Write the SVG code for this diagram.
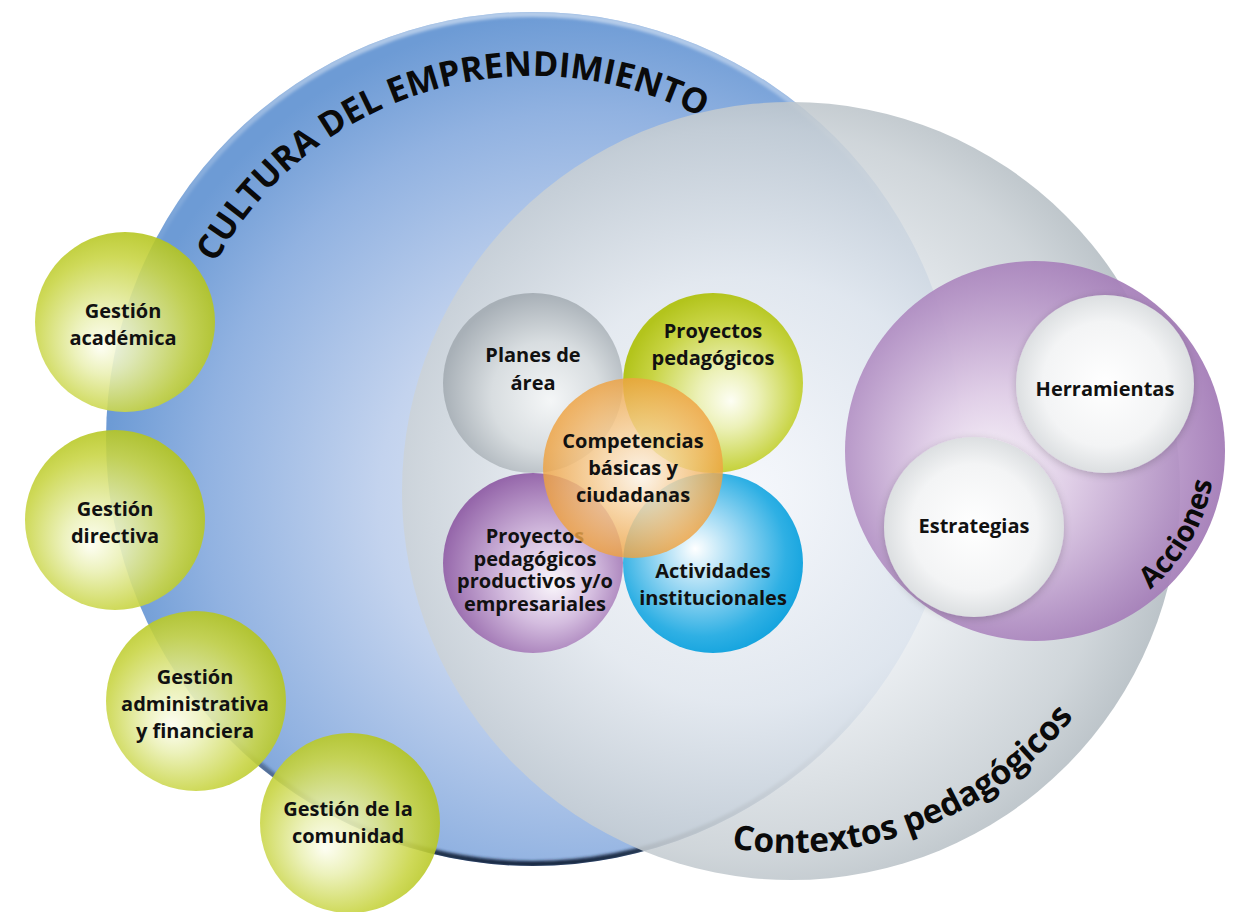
<svg xmlns="http://www.w3.org/2000/svg" width="1237" height="912" viewBox="0 0 1237 912">
<style>
.lbl{font-family:"Open Sans","Liberation Sans",sans-serif;font-weight:700;font-size:20px;text-anchor:middle;fill:#111}
.arc{font-family:"Open Sans","Liberation Sans",sans-serif;font-weight:700;fill:#0a0a0a}
</style>
<defs>
<radialGradient id="gBlue" cx="0.56" cy="0.56" r="0.56" fx="0.58" fy="0.58">
<stop offset="0" stop-color="#eaf0fa"/><stop offset="0.45" stop-color="#c3d3ee"/><stop offset="0.8" stop-color="#91b2e1"/><stop offset="1" stop-color="#6d9bd5"/>
</radialGradient>
<linearGradient id="gBlueRim" x1="0" y1="0" x2="0" y2="1">
<stop offset="0" stop-color="#fff" stop-opacity="0.5"/><stop offset="0.3" stop-color="#fff" stop-opacity="0"/><stop offset="0.8" stop-color="#142640" stop-opacity="0"/><stop offset="1" stop-color="#142640" stop-opacity="1"/>
</linearGradient>
<radialGradient id="gGray" cx="0.45" cy="0.5" r="0.55" fx="0.45" fy="0.5">
<stop offset="0" stop-color="#fafbfd"/><stop offset="0.5" stop-color="#e8ecf0"/><stop offset="0.85" stop-color="#c9d0d5"/><stop offset="1" stop-color="#b2bbc1"/>
</radialGradient>
<radialGradient id="gPurple" cx="0.45" cy="0.5" r="0.55" fx="0.38" fy="0.56">
<stop offset="0" stop-color="#faf5fb"/><stop offset="0.35" stop-color="#e0cde7"/><stop offset="0.8" stop-color="#b492c5"/><stop offset="1" stop-color="#a27ab6"/>
</radialGradient>
<radialGradient id="gGreen" cx="0.45" cy="0.55" r="0.58" fx="0.36" fy="0.64">
<stop offset="0" stop-color="#fdfef2"/><stop offset="0.3" stop-color="#eaf0b4"/><stop offset="0.75" stop-color="#c9d546"/><stop offset="1" stop-color="#b3c41c"/>
</radialGradient>
<radialGradient id="gGreen2" cx="0.55" cy="0.55" r="0.55" fx="0.6" fy="0.6">
<stop offset="0" stop-color="#fdfef4"/><stop offset="0.3" stop-color="#ecf1b8"/><stop offset="0.75" stop-color="#c8d444"/><stop offset="1" stop-color="#b3c41c"/>
</radialGradient>
<radialGradient id="gOrange" cx="0.5" cy="0.5" r="0.52" fx="0.55" fy="0.55">
<stop offset="0" stop-color="#fff5e8"/><stop offset="0.45" stop-color="#f9cf96"/><stop offset="1" stop-color="#ee9f3a"/>
</radialGradient>
<radialGradient id="gCyan" cx="0.45" cy="0.45" r="0.58" fx="0.4" fy="0.42">
<stop offset="0" stop-color="#ffffff"/><stop offset="0.4" stop-color="#99d7f3"/><stop offset="0.8" stop-color="#2fb0e4"/><stop offset="1" stop-color="#13a3de"/>
</radialGradient>
<radialGradient id="gGraySm" cx="0.55" cy="0.55" r="0.55" fx="0.6" fy="0.6">
<stop offset="0" stop-color="#f4f6f7"/><stop offset="0.55" stop-color="#d8dde0"/><stop offset="1" stop-color="#a8b0b7"/>
</radialGradient>
<radialGradient id="gPurpleSm" cx="0.55" cy="0.55" r="0.56" fx="0.62" fy="0.62">
<stop offset="0" stop-color="#faf6fb"/><stop offset="0.45" stop-color="#d4bddf"/><stop offset="1" stop-color="#9566aa"/>
</radialGradient>
<radialGradient id="gWhite" cx="0.5" cy="0.5" r="0.5">
<stop offset="0" stop-color="#ffffff"/><stop offset="0.7" stop-color="#f3f4f5"/><stop offset="1" stop-color="#dcdfe1"/>
</radialGradient>
<filter id="blur2" x="-10%" y="-10%" width="120%" height="120%"><feGaussianBlur stdDeviation="1.6"/></filter>
<filter id="shadow" x="-20%" y="-20%" width="140%" height="140%"><feGaussianBlur in="SourceAlpha" stdDeviation="4"/><feOffset dx="0" dy="2"/><feComponentTransfer><feFuncA type="linear" slope="0.2"/></feComponentTransfer><feMerge><feMergeNode/><feMergeNode in="SourceGraphic"/></feMerge></filter>
<clipPath id="clipBlue"><circle cx="533" cy="439" r="427"/></clipPath>
<path id="pCultura" d="M 175.5 376 A 363 363 0 0 1 847.4 257.5"/>
<path id="pContextos" d="M 610 804.5 A 362 362 0 0 0 1147.5 553.8"/>
<path id="pAcciones" d="M 1066.3 628.3 A 180 180 0 0 0 1204.1 389.4"/>
</defs>

<g id="cultura-emprendimiento">
<circle cx="533" cy="439" r="427" fill="url(#gBlue)"/>
<circle cx="533" cy="439" r="425" fill="none" stroke="url(#gBlueRim)" stroke-width="6" filter="url(#blur2)" clip-path="url(#clipBlue)"/>
<text class="arc" font-size="34.5"><textPath href="#pCultura" startOffset="401" text-anchor="middle">CULTURA DEL EMPRENDIMIENTO</textPath></text>
</g>

<g id="contextos-pedagogicos">
<circle cx="791" cy="491" r="389" fill="url(#gGray)" opacity="0.88"/>
<text class="arc" font-size="33.5"><textPath href="#pContextos" startOffset="322" text-anchor="middle">Contextos pedagógicos</textPath></text>
</g>

<g id="planes-area">
<circle cx="533" cy="383" r="90" fill="url(#gGraySm)"/>
<text class="lbl" x="533" y="362">Planes de</text>
<text class="lbl" x="533" y="390">área</text>
</g>
<g id="proyectos-pedagogicos">
<circle cx="713" cy="383" r="90" fill="url(#gGreen2)"/>
<text class="lbl" x="713" y="338">Proyectos</text>
<text class="lbl" x="713" y="365">pedagógicos</text>
</g>
<g id="proyectos-productivos">
<circle cx="533" cy="563" r="90" fill="url(#gPurpleSm)"/>
<text class="lbl" x="535" y="543">Proyectos</text>
<text class="lbl" x="535" y="566">pedagógicos</text>
<text class="lbl" x="535" y="588">productivos y/o</text>
<text class="lbl" x="535" y="611">empresariales</text>
</g>
<g id="actividades-institucionales">
<circle cx="713" cy="563" r="90" fill="url(#gCyan)"/>
<text class="lbl" x="713" y="578">Actividades</text>
<text class="lbl" x="713" y="605">institucionales</text>
</g>
<g id="competencias">
<circle cx="633" cy="468" r="90" fill="url(#gOrange)" opacity="0.82"/>
<text class="lbl" x="633" y="448">Competencias</text>
<text class="lbl" x="633" y="475">básicas y</text>
<text class="lbl" x="633" y="502">ciudadanas</text>
</g>

<g id="acciones">
<circle cx="1035" cy="451" r="190" fill="url(#gPurple)" opacity="0.93"/>
<text class="arc" font-size="29"><textPath href="#pAcciones" startOffset="157" text-anchor="middle">Acciones</textPath></text>
</g>
<g id="herramientas">
<circle cx="1105" cy="384" r="89" fill="url(#gWhite)" filter="url(#shadow)"/>
<text class="lbl" x="1105" y="396">Herramientas</text>
</g>
<g id="estrategias">
<circle cx="974" cy="527" r="90" fill="url(#gWhite)" filter="url(#shadow)"/>
<text class="lbl" x="974" y="533">Estrategias</text>
</g>

<g id="gestion-academica">
<circle cx="125" cy="322" r="90" fill="url(#gGreen)" opacity="0.9"/>
<text class="lbl" x="123" y="318">Gestión</text>
<text class="lbl" x="123" y="345">académica</text>
</g>
<g id="gestion-directiva">
<circle cx="115" cy="520" r="90" fill="url(#gGreen)" opacity="0.9"/>
<text class="lbl" x="115" y="516">Gestión</text>
<text class="lbl" x="115" y="543">directiva</text>
</g>
<g id="gestion-administrativa">
<circle cx="196" cy="701" r="90" fill="url(#gGreen)" opacity="0.9"/>
<text class="lbl" x="195" y="684">Gestión</text>
<text class="lbl" x="195" y="711">administrativa</text>
<text class="lbl" x="195" y="738">y financiera</text>
</g>
<g id="gestion-comunidad">
<circle cx="350" cy="823" r="90" fill="url(#gGreen)" opacity="0.9"/>
<text class="lbl" x="348" y="816">Gestión de la</text>
<text class="lbl" x="348" y="843">comunidad</text>
</g>

<g id="connectors"/>
</svg>
